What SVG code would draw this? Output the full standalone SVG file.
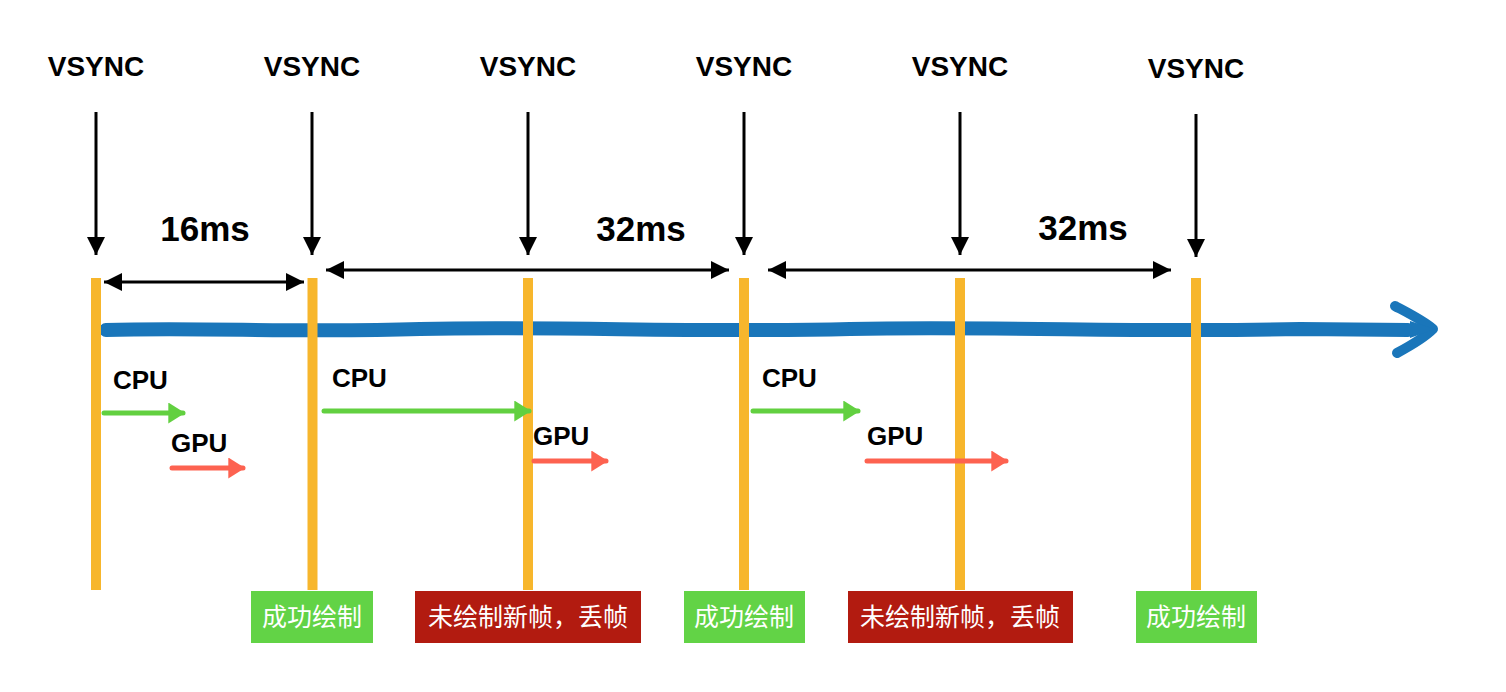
<svg xmlns="http://www.w3.org/2000/svg" width="1506" height="692" viewBox="0 0 1506 692">
<defs>
<style>
.vs{font-family:"Liberation Sans",Arial,sans-serif;font-weight:bold;font-size:28px;fill:#000;text-anchor:middle}
.ms{font-family:"Liberation Sans",Arial,sans-serif;font-weight:bold;font-size:35px;fill:#000;text-anchor:middle}
.pu{font-family:"Liberation Sans",Arial,sans-serif;font-weight:bold;font-size:26px;fill:#000}
.lb{font-family:"Noto Sans CJK SC","Noto Sans",sans-serif;font-size:25px;fill:#fff;text-anchor:middle}
.bar{fill:#f7b62c}
.vline{stroke:#000;stroke-width:3;fill:none}
.dbl{stroke:#000;stroke-width:3;fill:none}
.ga{stroke:#62d040;stroke-width:5;fill:none;stroke-linecap:round}
.ra{stroke:#fd6250;stroke-width:5;fill:none;stroke-linecap:round}
.ok{fill:#62d346}
.bad{fill:#b21b10}
</style>
<marker id="ah" viewBox="0 0 10 10" refX="10" refY="5" markerWidth="6" markerHeight="6" markerUnits="strokeWidth" orient="auto-start-reverse"><path d="M0,0 L10,5 L0,10 z" fill="#000"/></marker>
<marker id="gh" viewBox="0 0 8 10" refX="7" refY="5" markerWidth="3.4" markerHeight="4.2" markerUnits="strokeWidth" orient="auto"><path d="M0,0 L8,5 L0,10 z" fill="#62d040"/></marker>
<marker id="rh" viewBox="0 0 8 10" refX="7" refY="5" markerWidth="3.4" markerHeight="4.2" markerUnits="strokeWidth" orient="auto"><path d="M0,0 L8,5 L0,10 z" fill="#fd6250"/></marker>
</defs>
<rect width="1506" height="692" fill="#fff"/>

<g id="vsync1"><text class="vs" x="96" y="76">VSYNC</text></g>
<g id="vsync2"><text class="vs" x="312" y="76">VSYNC</text></g>
<g id="vsync3"><text class="vs" x="528" y="76">VSYNC</text></g>
<g id="vsync4"><text class="vs" x="744" y="76">VSYNC</text></g>
<g id="vsync5"><text class="vs" x="960" y="76">VSYNC</text></g>
<g id="vsync6"><text class="vs" x="1196" y="78">VSYNC</text></g>

<g id="timeline">
<path d="M106,330 C200,327 300,333 420,329 C560,326 700,333 850,329 C1000,326 1150,333 1300,329 L1408,330" stroke="#1a76ba" stroke-width="14" fill="none" stroke-linecap="round"/>
<path d="M1395,306 C1410,314 1424,321 1433,329 C1424,338 1410,346 1397,353" stroke="#1a76ba" stroke-width="10" fill="none" stroke-linecap="round" stroke-linejoin="round"/>
<path d="M1410,321 L1435,329 L1410,338 z" fill="#1a76ba"/>
</g>

<g id="bars">
<rect class="bar" x="91" y="278" width="10" height="312"/>
<rect class="bar" x="307.5" y="278" width="10" height="312"/>
<rect class="bar" x="523" y="278" width="10" height="312"/>
<rect class="bar" x="739" y="278" width="10" height="312"/>
<rect class="bar" x="955" y="278" width="10" height="312"/>
<rect class="bar" x="1191" y="278" width="10" height="312"/>
</g>

<g id="connectors">
<line class="vline" x1="96" y1="112" x2="96" y2="255" marker-end="url(#ah)"/>
<line class="vline" x1="312" y1="112" x2="312" y2="255" marker-end="url(#ah)"/>
<line class="vline" x1="528" y1="112" x2="528" y2="255" marker-end="url(#ah)"/>
<line class="vline" x1="744" y1="112" x2="744" y2="255" marker-end="url(#ah)"/>
<line class="vline" x1="960" y1="112" x2="960" y2="255" marker-end="url(#ah)"/>
<line class="vline" x1="1196" y1="114" x2="1196" y2="257" marker-end="url(#ah)"/>
<line class="dbl" x1="104" y1="282" x2="304" y2="282" marker-start="url(#ah)" marker-end="url(#ah)"/>
<line class="dbl" x1="326" y1="270" x2="729" y2="270" marker-start="url(#ah)" marker-end="url(#ah)"/>
<line class="dbl" x1="768" y1="270" x2="1171" y2="270" marker-start="url(#ah)" marker-end="url(#ah)"/>
<path class="ga" d="M104,413 L183,413" marker-end="url(#gh)"/>
<path class="ga" d="M324,411 L529,411" marker-end="url(#gh)"/>
<path class="ga" d="M753,411 L858,411" marker-end="url(#gh)"/>
<path class="ra" d="M172,468 L243,468" marker-end="url(#rh)"/>
<path class="ra" d="M534,461 L606,461" marker-end="url(#rh)"/>
<path class="ra" d="M867,461 L1006,461" marker-end="url(#rh)"/>
</g>

<g id="interval1"><text class="ms" x="205" y="241">16ms</text></g>
<g id="interval2"><text class="ms" x="641" y="241">32ms</text></g>
<g id="interval3"><text class="ms" x="1083" y="240">32ms</text></g>

<g id="cpu1"><text class="pu" x="113" y="389">CPU</text></g>
<g id="cpu2"><text class="pu" x="332" y="387">CPU</text></g>
<g id="cpu3"><text class="pu" x="762" y="387">CPU</text></g>
<g id="gpu1"><text class="pu" x="171" y="452">GPU</text></g>
<g id="gpu2"><text class="pu" x="533" y="445">GPU</text></g>
<g id="gpu3"><text class="pu" x="867" y="445">GPU</text></g>

<g id="label1"><rect class="ok" x="251" y="591" width="122" height="52"/><text class="lb" x="312" y="626">成功绘制</text></g>
<g id="label2"><rect class="bad" x="415" y="591" width="226" height="52"/><text class="lb" x="528" y="626">未绘制新帧，丢帧</text></g>
<g id="label3"><rect class="ok" x="684" y="591" width="121" height="52"/><text class="lb" x="744" y="626">成功绘制</text></g>
<g id="label4"><rect class="bad" x="848" y="591" width="225" height="52"/><text class="lb" x="960" y="626">未绘制新帧，丢帧</text></g>
<g id="label5"><rect class="ok" x="1136" y="591" width="121" height="52"/><text class="lb" x="1196" y="626">成功绘制</text></g>
</svg>
